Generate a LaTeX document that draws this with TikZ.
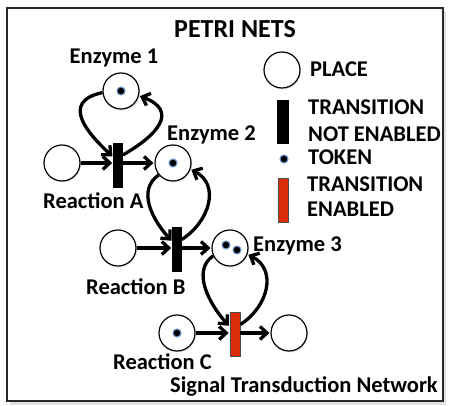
\documentclass[tikz,border=0pt]{standalone}
\usepackage{fontspec}
\setmainfont{Carlito}
\usetikzlibrary{arrows.meta,shadows,calc}
\definecolor{tokblue}{RGB}{110,150,210}
\definecolor{enred}{RGB}{220,45,10}
\definecolor{framegray}{RGB}{40,40,40}
\tikzset{
  place/.style={circle, draw=black, line width=1.2pt, fill=white, minimum size=36pt, inner sep=0pt,
    drop shadow={shadow xshift=1pt, shadow yshift=-1.5pt, opacity=0.2}},
  trans/.style={rectangle, fill=black, draw=black, line width=0.6pt, minimum width=9pt, minimum height=44pt, inner sep=0pt},
  transen/.style={rectangle, fill=enred, draw=black!70, line width=0.8pt, minimum width=10pt, minimum height=44pt, inner sep=0pt},
  tok/.style={circle, fill=black, draw=tokblue, line width=1.1pt, minimum size=8pt, inner sep=0pt},
  lbl/.style={font=\bfseries\fontsize{22.5}{24}\selectfont, inner sep=0pt, anchor=base west},
  lblc/.style={font=\bfseries\fontsize{22.5}{24}\selectfont, inner sep=0pt, anchor=base},
  arc/.style={line width=3.3pt, -{Straight Barb[length=7pt,width=13pt]}, shorten >=1pt},
}
\begin{document}
\begin{tikzpicture}[x=1pt,y=1pt]
\useasboundingbox (0,0) rectangle (449,406);
% frame with shadow
\fill[black!12] (10,1) rectangle (446,395);
\fill[white] (7,5) rectangle (443,398);
\draw[framegray, line width=2pt] (7,5) rectangle (443,398);

% title
\node[lbl, font=\bfseries\fontsize{26}{28}\selectfont] (title) at (174,368) {PETRI NETS};

% places and transitions
\node[place] (E1) at (121,315) {};
\node[place] (PA) at (62,243) {};
\node[trans] (TA) at (118,241) {};
\node[place] (E2) at (173,243) {};
\node[place] (PB) at (118,158) {};
\node[trans] (TB) at (177,156.5) {};
\node[place] (E3) at (230,158) {};
\node[place] (PC) at (177,73) {};
\node[transen] (TC) at (235,71.5) {};
\node[place] (PO) at (289,73) {};

% tokens
\node[tok] (k1) at (E1) {};
\node[tok] (k2) at (E2) {};
\node[tok] (k3a) at (226,161) {};
\node[tok] (k3b) at (237,156) {};
\node[tok] (kc) at (PC) {};

% labels
\node[lblc] (lE1) at (114,342) {Enzyme 1};
\node[lbl] (lE2) at (167,265) {Enzyme 2};
\node[lbl] (lRA) at (43,197) {Reaction A};
\node[lbl] (lRB) at (86,111) {Reaction B};
\node[lbl] (lE3) at (253,154) {Enzyme 3};
\node[lbl] (lRC) at (113,36) {Reaction C};
\node[lbl] (lSTN) at (170,13) {Signal Transduction Network};

% straight arcs
\draw[arc] (PA.east) -- (PA.east -| TA.west);
\draw[arc] (TA.east |- E2.west) -- (E2.west);
\draw[arc] (PB.east) -- (PB.east -| TB.west);
\draw[arc] (TB.east |- E3.west) -- (E3.west);
\draw[arc] (PC.east) -- (PC.east -| TC.west);
\draw[arc] (TC.east |- PO.west) -- (PO.west);

% enzyme loops
\draw[arc] (E1.185) .. controls +(-43,-9) and +(-25,23) .. ([yshift=8pt]TA.west);
\draw[arc] ([yshift=10pt]TA.east) .. controls +(35,20) and +(40,-15) .. (E1.-15);
\draw[arc] (E2.220) .. controls +(-22,-15) and +(-20,22) .. ([yshift=8pt]TB.west);
\draw[arc] ([yshift=10pt]TB.east) .. controls +(28,18) and +(30,-15) .. (E2.-20);
\draw[arc] (E3.205) .. controls +(-22,-15) and +(-20,22) .. ([yshift=8pt]TC.west);
\draw[arc] ([yshift=10pt]TC.east) .. controls +(28,18) and +(30,-15) .. (E3.-20);

% legend
\node[place] (LP) at (282,336) {};
\node[lbl] (lLP) at (310,329) {PLACE};
\node[trans, minimum width=11pt, minimum height=43pt] (LT) at (283,284.5) {};
\node[lbl] (lLT1) at (308,291) {TRANSITION};
\node[lbl] (lLT2) at (308,264) {NOT ENABLED};
\node[tok] (LK) at (284,247) {};
\node[lbl] (lLK) at (308,241) {TOKEN};
\node[transen, minimum width=10pt, minimum height=44pt] (LR) at (283,206) {};
\node[lbl] (lLR1) at (307,214) {TRANSITION};
\node[lbl] (lLR2) at (307,189) {ENABLED};
\end{tikzpicture}
\end{document}
